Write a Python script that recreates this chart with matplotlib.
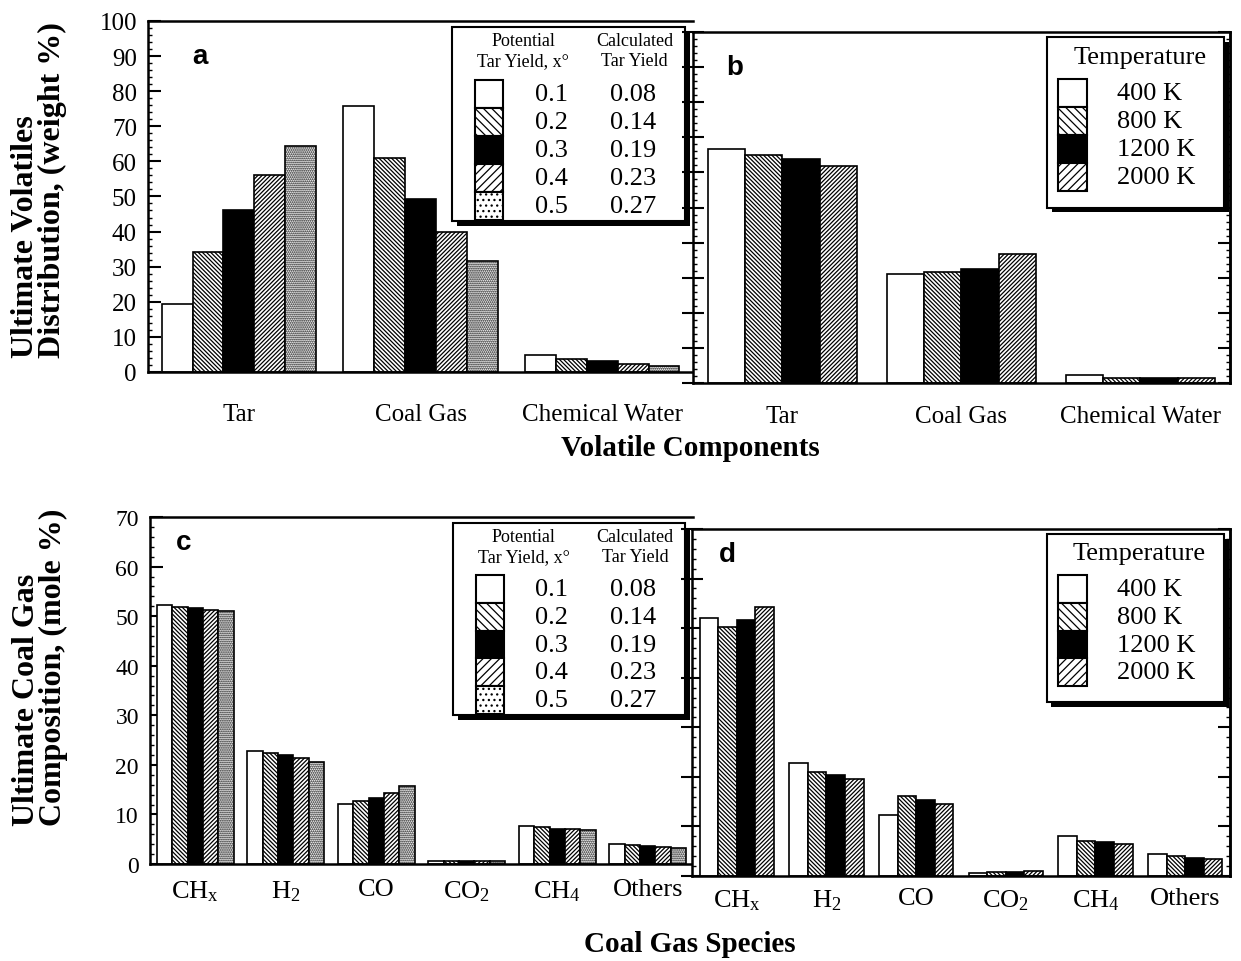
import numpy as np
import matplotlib
matplotlib.use('Agg')
import matplotlib.pyplot as plt
from matplotlib.patches import Rectangle

plt.rcParams['font.family'] = ['Liberation Serif', 'DejaVu Serif']
plt.rcParams['mathtext.fontset'] = 'custom'
plt.rcParams['mathtext.rm'] = 'Liberation Serif'
plt.rcParams['hatch.linewidth'] = 0.9

# ---- data ----
volatile_groups = ['Tar', 'Coal Gas', 'Chemical Water']
gas_species = [r'$\mathregular{CH_x}$', r'$\mathregular{H_2}$', 'CO',
               r'$\mathregular{CO_2}$', r'$\mathregular{CH_4}$', 'Others']

potential_yield = ['0.1', '0.2', '0.3', '0.4', '0.5']
calculated_yield = ['0.08', '0.14', '0.19', '0.23', '0.27']
temperatures = ['400 K', '800 K', '1200 K', '2000 K']

# panel a: one row per potential tar yield (Tar, Coal Gas, Chemical Water)
vol_x01 = [19.4, 75.7, 4.8]
vol_x02 = [34.3, 61.0, 3.6]
vol_x03 = [46.0, 49.4, 3.0]
vol_x04 = [56.0, 40.0, 2.4]
vol_x05 = [64.3, 31.7, 1.7]

# panel b: one row per temperature
vol_400 = [66.6, 31.1, 2.3]
vol_800 = [65.1, 31.7, 1.4]
vol_1200 = [63.7, 32.5, 1.4]
vol_2000 = [61.7, 36.8, 1.4]

# panel c: coal gas species per potential tar yield
gas_x01 = [52.3, 22.9, 12.2, 0.7, 7.7, 4.1]
gas_x02 = [51.9, 22.3, 12.8, 0.6, 7.5, 3.9]
gas_x03 = [51.7, 21.9, 13.4, 0.6, 7.1, 3.7]
gas_x04 = [51.3, 21.3, 14.4, 0.6, 7.1, 3.5]
gas_x05 = [51.1, 20.5, 15.8, 0.6, 6.9, 3.3]

# panel d: coal gas species per temperature
gas_400 = [52.1, 22.7, 12.2, 0.6, 8.1, 4.5]
gas_800 = [50.3, 21.0, 16.2, 0.8, 7.1, 4.0]
gas_1200 = [51.7, 20.4, 15.4, 0.7, 6.8, 3.7]
gas_2000 = [54.2, 19.5, 14.6, 0.9, 6.5, 3.4]

# ---- styles ----
yield_faces = ['white', 'white', 'black', 'white', 'white']
yield_hatches = ['', '\\' * 8, '', '/' * 8, '.' * 8]
yield_key_hatches = ['', '\\' * 4, '', '/' * 4, '.' * 3]
temp_faces = ['white', 'white', 'black', 'white']
temp_hatches = ['', '\\' * 8, '', '/' * 8]
temp_key_hatches = ['', '\\' * 4, '', '/' * 4]


def bar_groups(ax, series, faces, hatches, width):
    n = len(series)
    x = np.arange(len(series[0]))
    for i, (vals, fc, h) in enumerate(zip(series, faces, hatches)):
        ax.bar(x + (i - (n - 1) / 2) * width, vals, width, color=fc,
               hatch=h, edgecolor='black', linewidth=1.2, zorder=2)
    ax.set_xlim(-0.5, len(series[0]) - 0.5)


def style_axis(ax, ymax, labels, labelsize, pad, left_labels=True):
    ax.set_ylim(0, ymax)
    ax.set_xticks(np.arange(len(labels)))
    ax.set_xticklabels(labels, fontsize=labelsize)
    ax.tick_params(axis='x', length=0, pad=pad)
    ax.set_yticks(np.arange(0, ymax + 1, 10))
    ax.set_yticks(np.arange(0, ymax + 1, 2), minor=True)
    for s in ax.spines.values():
        s.set_linewidth(1.8)
    if left_labels:
        ax.tick_params(axis='y', which='major', direction='in', length=9,
                       width=1.5, labelsize=18, pad=8)
        ax.tick_params(axis='y', which='minor', direction='in', length=3, width=1)
        ax.spines['right'].set_visible(False)
    else:
        ax.tick_params(axis='y', which='major', direction='inout', length=16,
                       width=1.5, labelleft=False)
        ax.tick_params(axis='y', which='minor', direction='in', length=3, width=1)
        sec = ax.secondary_yaxis('right')
        sec.set_yticks(np.arange(0, ymax + 1, 10))
        sec.set_yticks(np.arange(0, ymax + 1, 2), minor=True)
        sec.tick_params(which='major', direction='in', length=9, width=1.5,
                        labelright=False)
        sec.tick_params(which='minor', direction='in', length=3, width=1)
        sec.spines['right'].set_linewidth(1.8)


def draw_box(ax, x0, y0, w, h):
    ax.add_patch(Rectangle((x0 + 0.009, y0 - 0.014), w, h, transform=ax.transAxes,
                           facecolor='black', edgecolor='none', zorder=5, clip_on=False))
    ax.add_patch(Rectangle((x0, y0), w, h, transform=ax.transAxes, facecolor='white',
                           edgecolor='black', linewidth=1.5, zorder=6, clip_on=False))


def draw_swatches(ax, x0, w, top, bottom, faces, hatches):
    n = len(faces)
    sh = (top - bottom) / n
    for i, (fc, h) in enumerate(zip(faces, hatches)):
        ax.add_patch(Rectangle((x0, top - (i + 1) * sh), w, sh, transform=ax.transAxes,
                               facecolor=fc, hatch=h, edgecolor='black',
                               linewidth=1.5, zorder=7, clip_on=False))
    return [top - (i + 0.5) * sh for i in range(n)]


def yield_key(ax):
    draw_box(ax, 0.558, 0.43, 0.428, 0.553)
    ys = draw_swatches(ax, 0.600, 0.052, 0.832, 0.433, yield_faces, yield_key_hatches)
    kw = dict(transform=ax.transAxes, ha='center', va='center', zorder=8)
    ax.text(0.688, 0.945, 'Potential', fontsize=13, **kw)
    ax.text(0.688, 0.886, 'Tar Yield, x°', fontsize=13, **kw)
    ax.text(0.893, 0.945, 'Calculated', fontsize=13, **kw)
    ax.text(0.893, 0.886, 'Tar Yield', fontsize=13, **kw)
    for y, p, c in zip(ys, potential_yield, calculated_yield):
        ax.text(0.74, y, p, fontsize=19, **kw)
        ax.text(0.89, y, c, fontsize=19, **kw)


def temp_key(ax):
    draw_box(ax, 0.659, 0.50, 0.33, 0.485)
    ys = draw_swatches(ax, 0.680, 0.054, 0.866, 0.547, temp_faces, temp_key_hatches)
    ax.text(0.832, 0.93, 'Temperature', fontsize=19, transform=ax.transAxes,
            ha='center', va='center', zorder=8)
    for y, t in zip(ys, temperatures):
        ax.text(0.79, y, t, fontsize=19, transform=ax.transAxes,
                ha='left', va='center', zorder=8)


fig = plt.figure(figsize=(12.41, 9.62), dpi=100)
ax_a = fig.add_axes([0.1193, 0.6123, 0.4392, 0.3649])
ax_b = fig.add_axes([0.5584, 0.6008, 0.4327, 0.3649])
ax_c = fig.add_axes([0.1209, 0.1008, 0.4375, 0.3607])
ax_d = fig.add_axes([0.5576, 0.0884, 0.4335, 0.3607])

bar_groups(ax_a, [vol_x01, vol_x02, vol_x03, vol_x04, vol_x05], yield_faces, yield_hatches, 0.17)
bar_groups(ax_b, [vol_400, vol_800, vol_1200, vol_2000], temp_faces, temp_hatches, 0.207)
bar_groups(ax_c, [gas_x01, gas_x02, gas_x03, gas_x04, gas_x05], yield_faces, yield_hatches, 0.17)
bar_groups(ax_d, [gas_400, gas_800, gas_1200, gas_2000], temp_faces, temp_hatches, 0.207)

style_axis(ax_a, 100, volatile_groups, 18, 22)
style_axis(ax_b, 100, volatile_groups, 18, 16, left_labels=False)
style_axis(ax_c, 70, gas_species, 19, 10)
style_axis(ax_d, 70, gas_species, 19, 8, left_labels=False)
ax_c.tick_params(axis='y', labelsize=17)

yield_key(ax_a)
temp_key(ax_b)
yield_key(ax_c)
temp_key(ax_d)

letter = dict(fontsize=20, fontweight='bold', family='Liberation Sans',
              ha='center', va='center')
ax_a.text(0.095, 0.90, 'a', transform=ax_a.transAxes, **letter)
ax_b.text(0.078, 0.90, 'b', transform=ax_b.transAxes, **letter)
ax_c.text(0.061, 0.928, 'c', transform=ax_c.transAxes, **letter)
ax_d.text(0.065, 0.928, 'd', transform=ax_d.transAxes, **letter)

fig.text(39 / 1241, 1 - 358 / 962, 'Ultimate Volatiles\nDistribution, (weight %)',
         rotation=90, fontsize=23, fontweight='bold', ha='center', va='bottom',
         multialignment='left', linespacing=0.95)
fig.text(40 / 1241, 1 - 826 / 962, 'Ultimate Coal Gas\nComposition, (mole %)',
         rotation=90, fontsize=23, fontweight='bold', ha='center', va='bottom',
         multialignment='left', linespacing=0.95)
fig.text(690 / 1241, 1 - 448 / 962, 'Volatile Components', fontsize=21,
         fontweight='bold', ha='center', va='center')
fig.text(690 / 1241, 1 - 945 / 962, 'Coal Gas Species', fontsize=21,
         fontweight='bold', ha='center', va='center')

fig.savefig('out.png', dpi=100)
